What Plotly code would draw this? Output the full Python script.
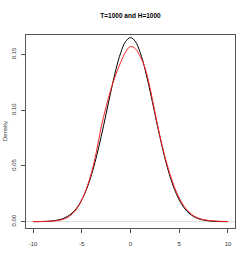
import plotly.graph_objects as go

x_grid = [-10, -9.5, -9, -8.5, -8, -7.5, -7, -6.5, -6, -5.5, -5, -4.5, -4, -3.5, -3, -2.5, -2, -1.5, -1, -0.5,
          0, 0.5, 1, 1.5, 2, 2.5, 3, 3.5, 4, 4.5, 5, 5.5, 6, 6.5, 7, 7.5, 8, 8.5, 9, 9.5, 10]

density_black = [0.0000, 0.0000, 0.0001, 0.0003, 0.0007, 0.0014, 0.0025, 0.0045, 0.0076, 0.0124, 0.0195,
                 0.0292, 0.0420, 0.0580, 0.0765, 0.0967, 0.1172, 0.1362, 0.1515, 0.1615,
                 0.1650, 0.1615, 0.1515, 0.1362, 0.1172, 0.0967, 0.0765, 0.0580, 0.0420, 0.0292,
                 0.0195, 0.0124, 0.0076, 0.0045, 0.0025, 0.0014, 0.0007, 0.0003, 0.0001, 0.0000, 0.0000]

density_red = [0.0001, 0.0001, 0.0002, 0.0003, 0.0005, 0.0009, 0.0018, 0.0035, 0.0066, 0.0116, 0.0192,
               0.0300, 0.0440, 0.0625, 0.0850, 0.1030, 0.1190, 0.1320, 0.1430, 0.1520,
               0.1570, 0.1550, 0.1480, 0.1375, 0.1200, 0.0985, 0.0775, 0.0592, 0.0440, 0.0310,
               0.0212, 0.0137, 0.0086, 0.0051, 0.0030, 0.0018, 0.0011, 0.0007, 0.0004, 0.0002, 0.0001]

x_ticks = [-10, -5, 0, 5, 10]
y_ticks = [0.00, 0.05, 0.10, 0.15]
y_tick_labels = ["0.00", "0.05", "0.10", "0.15"]

W, H = 249, 273
L, R, T, B = 25.5, 13.5, 35, 45

fig = go.Figure()
fig.add_trace(go.Scatter(x=[-10.72, 10.72], y=[0, 0], mode="lines",
                         line=dict(color="#d9d9d9", width=1), hoverinfo="skip"))
fig.add_trace(go.Scatter(x=x_grid, y=density_black, mode="lines", line_shape="spline",
                         line=dict(color="black", width=1)))
fig.add_trace(go.Scatter(x=x_grid, y=density_red, mode="lines", line_shape="spline",
                         line=dict(color="#ff2020", width=1)))

fam = "Liberation Sans, Arial, sans-serif"
font = dict(family=fam, color="#333333")

fig.update_layout(
    width=W, height=H,
    margin=dict(l=L, r=R, t=T, b=B, pad=0, autoexpand=False),
    paper_bgcolor="white", plot_bgcolor="white",
    showlegend=False,
    title=dict(text="<b>T=1000 and H=1000</b>", x=(L + (W - L - R) / 2) / W, xanchor="center",
               y=1 - 16 / H, yanchor="middle", yref="container", automargin=False,
               font=dict(family=fam, size=6.5, color="black")),
    xaxis=dict(range=[-10.72, 10.72], tickvals=x_ticks, ticktext=[str(v) for v in x_ticks],
               showgrid=False, zeroline=False, showline=True, linecolor="#555555", linewidth=1,
               mirror=True, ticks="outside", ticklen=4, tickcolor="#555555", tickwidth=1,
               tickfont=dict(size=6, **font), ticklabelstandoff=6, automargin=False),
    yaxis=dict(range=[-0.0057, 0.1673], tickvals=y_ticks, ticktext=y_tick_labels,
               showgrid=False, zeroline=False, showline=True, linecolor="#555555", linewidth=1,
               mirror=True, ticks="outside", ticklen=4, tickcolor="#555555", tickwidth=1,
               tickangle=-90, tickfont=dict(size=6, **font), ticklabelstandoff=3, automargin=False),
    annotations=[dict(text="Density", xref="paper", yref="paper", x=0, y=0.5,
                      xshift=-(L - 4), showarrow=False, textangle=-90,
                      font=dict(size=6, **font), xanchor="center", yanchor="middle")],
)

fig.write_html("out.html", config={"displayModeBar": False},
               post_script="document.body.style.margin='0';document.body.style.overflow='hidden';")
